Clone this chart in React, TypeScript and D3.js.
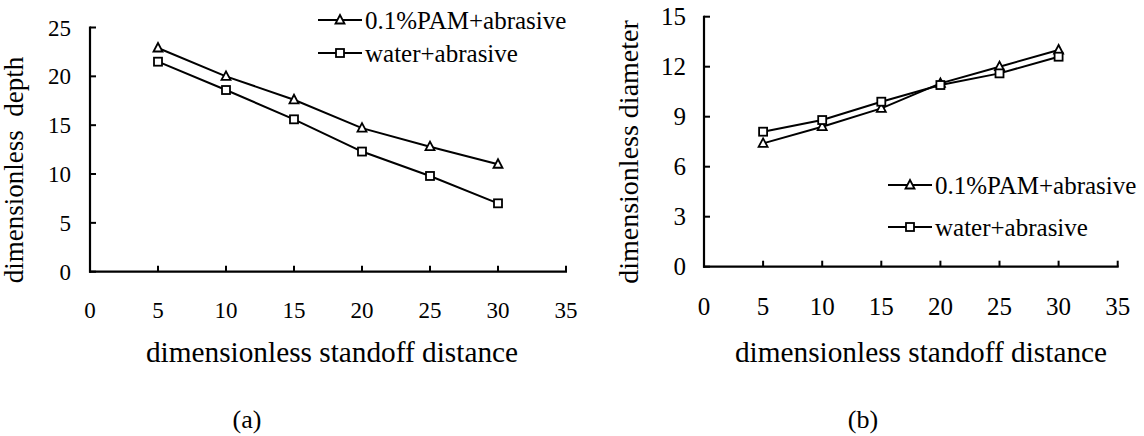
import React from "react";
import * as d3 from "d3";

const distance = [5, 10, 15, 20, 25, 30];
const depthPAM = [22.9, 20.0, 17.6, 14.7, 12.8, 11.0];
const depthWater = [21.5, 18.6, 15.6, 12.3, 9.8, 7.0];
const diamPAM = [7.4, 8.4, 9.5, 11.0, 12.0, 13.0];
const diamWater = [8.1, 8.8, 9.9, 10.9, 11.6, 12.6];
const xTicks = [0, 5, 10, 15, 20, 25, 30, 35];
const yTicksA = [0, 5, 10, 15, 20, 25];
const yTicksB = [0, 3, 6, 9, 12, 15];
const seriesNames = ["0.1%PAM+abrasive", "water+abrasive"];

const FONT = '"Liberation Serif", "Times New Roman", Times, serif';
const TS: React.CSSProperties = { fontFamily: FONT };

function Tri({ x, y }: { x: number; y: number }) {
  return (
    <path
      d={`M${x},${y - 5} L${x + 4.5},${y + 3.5} L${x - 4.5},${y + 3.5} Z`}
      fill="#fff"
      stroke="#000"
      strokeWidth={1.8}
    />
  );
}
function Sq({ x, y }: { x: number; y: number }) {
  return <rect x={x - 4} y={y - 4} width={8} height={8} fill="#fff" stroke="#000" strokeWidth={1.8} />;
}

type PanelProps = {
  x0: number; x1: number; y0: number; y1: number; yMax: number; yTicks: number[];
  s1: number[]; s2: number[]; yLabel: string; yLabelX: number; yLabelY: number; yLabelSize: number;
  tickSize: number; tickRight: number; xTickY: number; titleX: number; letter: string; letterX: number;
  legX: number; legY1: number; legY2: number;
};

function Panel(p: PanelProps) {
  const x = d3.scaleLinear().domain([0, 35]).range([p.x0, p.x1]);
  const y = d3.scaleLinear().domain([0, p.yMax]).range([p.y0, p.y1]);
  const line = d3.line<number>().x((_, i) => x(distance[i])).y((d) => y(d));
  return (
    <g fill="#000">
      <path d={line(p.s1) || ""} fill="none" stroke="#000" strokeWidth={2} />
      <path d={line(p.s2) || ""} fill="none" stroke="#000" strokeWidth={2} />
      {p.s1.map((v, i) => <Tri key={"t" + i} x={x(distance[i])} y={y(v)} />)}
      {p.s2.map((v, i) => <Sq key={"s" + i} x={x(distance[i])} y={y(v)} />)}
      <line x1={p.x0} x2={p.x0} y1={y(p.yMax) - 1} y2={p.y0 + 1} stroke="#000" strokeWidth={2.2} />
      <line x1={p.x0 - 1} x2={p.x1 + 1} y1={p.y0} y2={p.y0} stroke="#000" strokeWidth={2.2} />
      {p.yTicks.map((t) => (
        <g key={"y" + t}>
          <line x1={p.x0} x2={p.x0 + 6} y1={y(t)} y2={y(t)} stroke="#000" strokeWidth={2} />
          <text style={TS} x={p.tickRight} y={y(t)} dy="0.35em" textAnchor="end" fontSize={p.tickSize}>{t}</text>
        </g>
      ))}
      {xTicks.map((t) => (
        <g key={"x" + t}>
          <line x1={x(t)} x2={x(t)} y1={p.y0} y2={p.y0 - 6} stroke="#000" strokeWidth={2} />
          <text style={TS} x={x(t)} y={p.xTickY} dy="0.35em" textAnchor="middle" fontSize={p.tickSize}>{t}</text>
        </g>
      ))}
      <text style={TS} x={p.titleX} y={362} textAnchor="middle" fontSize={29.3}>dimensionless standoff distance</text>
      <text transform={`translate(${p.yLabelX},${p.yLabelY}) rotate(-90)`} textAnchor="middle" fontSize={p.yLabelSize} style={{ ...TS, whiteSpace: "pre" }}>{p.yLabel}</text>
      <text style={TS} x={p.letterX} y={428} textAnchor="middle" fontSize={26}>{p.letter}</text>
      {[p.legY1, p.legY2].map((ly, i) => (
        <g key={"l" + i}>
          <line x1={p.legX} x2={p.legX + 44} y1={ly} y2={ly} stroke="#000" strokeWidth={2} />
          {i === 0 ? <Tri x={p.legX + 22} y={ly} /> : <Sq x={p.legX + 22} y={ly} />}
          <text style={TS} x={p.legX + 47} y={ly} dy="0.35em" fontSize={25}>{seriesNames[i]}</text>
        </g>
      ))}
    </g>
  );
}

export default function App() {
  return (
    <svg width={1144} height={436} style={{ position: "absolute", left: 0, top: 0, background: "#fff", fontFamily: FONT }}>
      <rect width={1144} height={436} fill="#fff" />
      <Panel x0={90} x1={566} y0={271.7} y1={27.5} yMax={25} yTicks={yTicksA} s1={depthPAM} s2={depthWater}
        yLabel={"dimensionless  depth"} yLabelX={23} yLabelY={170} yLabelSize={27} tickSize={23} tickRight={71} xTickY={310}
        titleX={332} letter="(a)" letterX={247} legX={318} legY1={20} legY2={53} />
      <Panel x0={704} x1={1117.7} y0={266.7} y1={16.7} yMax={15} yTicks={yTicksB} s1={diamPAM} s2={diamWater}
        yLabel={"dimensionless diameter"} yLabelX={638} yLabelY={152} yLabelSize={28} tickSize={25} tickRight={686} xTickY={306}
        titleX={921} letter="(b)" letterX={863} legX={888} legY1={185} legY2={227} />
    </svg>
  );
}
